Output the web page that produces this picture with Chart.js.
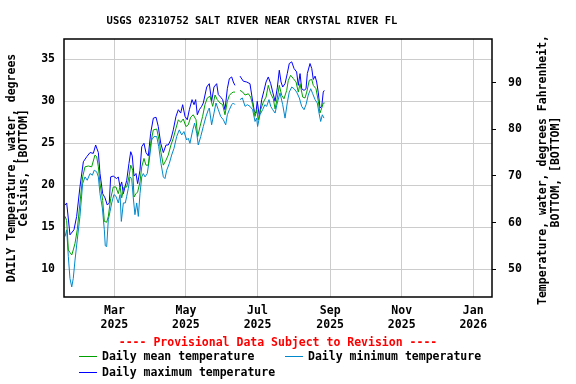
<!DOCTYPE html>
<html>
<head>
<meta charset="utf-8">
<script src="https://cdn.jsdelivr.net/npm/chart.js@4/dist/chart.umd.min.js"></script>
<style>
  html, body { margin: 0; padding: 0; background: #fff; }
  canvas { display: block; }
</style>
</head>
<body>
<canvas id="tempChart" width="576" height="384"></canvas>
<script>
// x values are days counted from 1 Jan 2025 (day 0)
const tickDays = [59, 120, 181, 243, 304, 365];
const tickMonths = ['Mar', 'May', 'Jul', 'Sep', 'Nov', 'Jan'];
const tickYears = ['2025', '2025', '2025', '2025', '2025', '2026'];
const celsiusTicks = [10, 15, 20, 25, 30, 35];
const fahrenheitTicks = [50, 60, 70, 80, 90];

// daily maximum
const maxDays = [16.9, 18.3, 21.1, 24.5, 26.8, 29.6, 32.5, 35.4, 38.2, 41.0, 43.0, 45.3, 46.7, 49.0, 51.0, 52.9, 54.6, 55.8, 58.0, 60.9,
  62.3, 63.8, 65.2, 66.6, 68.0, 69.5, 71.4, 72.9, 74.2, 75.7, 77.4, 78.8, 80.8, 82.3, 84.2, 85.9, 87.9, 89.9, 92.2, 94.5,
  96.4, 98.5, 100.7, 103.0, 104.9, 107.0, 109.2, 111.5, 113.5, 115.5, 117.2, 119.2, 121.1, 122.9, 125.2, 126.9, 128.3, 129.7, 131.4, 133.4,
  134.8, 137.7, 139.9, 141.9, 143.9, 146.2, 147.6, 149.6, 151.3, 153.3, 155.3, 157.0, 159.0, 160.4, 161.8, 164,
  166.1, 168.9, 171.8, 174.6, 176.9, 178.3, 179.7, 180.8, 182.6, 184.6, 186.6, 188.3, 190.2, 192.3, 194.0, 196.0, 197.9, 199.6, 201.1, 202.5,
  204.5, 206.4, 208.1, 210.2, 212.2, 214.4, 215.8, 217.3, 218.7, 220.7, 222.4, 223.5, 225.8, 227.3, 228.6, 230.1, 231.5, 232.9, 234.3, 235.8,
  237.1, 238.0];
const maxTemp = [17.65, 17.9, 14.1, 14.7, 16.3, 19.8, 22.8, 23.4, 23.9, 23.8, 24.8, 23.9, 21.4, 19.0, 18.5, 17.65, 17.9, 21.0, 21.1, 20.8,
  21.0, 19.8, 20.4, 19.0, 19.8, 20.6, 22.6, 24.0, 23.5, 21.1, 21.4, 20.2, 21.8, 24.6, 25.0, 23.9, 23.5, 26.2, 28.0, 28.1,
  27.0, 25.0, 23.9, 24.8, 24.8, 25.4, 26.6, 28.2, 29.0, 28.6, 29.6, 28.2, 27.8, 29.0, 30.2, 29.6, 30.2, 28.4, 29.0, 29.4,
  29.8, 31.7, 32.1, 30.0, 31.7, 32.1, 30.8, 30.5, 30.2, 29.0, 31.5, 32.7, 32.9, 32.3, 31.9, null,
  33.0, 32.4, 32.3, 32.1, 30.0, 28.8, 28.6, 30.0, 28.2, 30.2, 31.3, 32.3, 32.9, 32.1, 31.1, 30.0, 31.6, 33.7, 32.3, 31.7,
  32.1, 33.3, 34.5, 34.7, 33.9, 33.5, 31.9, 33.3, 31.5, 31.3, 31.5, 33.3, 34.5, 33.9, 32.6, 33.0, 32.3, 31.0, 29.2, 29.4,
  31.1, 31.3];

// daily mean
const meanDays = [16.9, 18.3, 19.7, 21.1, 22.6, 23.9, 25.4, 27.3, 29.6, 31.9, 33.9, 36.7, 39.6, 42.4, 43.9, 45.3, 46.7, 49.0, 50.4, 52.4,
  53.8, 55.8, 58.0, 60.3, 62.3, 63.8, 65.2, 67.2, 69.5, 71.4, 72.9, 74.6, 75.7, 77.4, 78.8, 80.8, 82.3, 84.2, 85.9, 87.9,
  89.9, 92.2, 95.1, 97.0, 98.7, 100.7, 103.0, 104.9, 107.2, 109.2, 111.5, 113.5, 115.5, 117.7, 120.0, 122.0, 124.0, 126.2, 128.6, 130.0,
  132.0, 134.2, 136.2, 138.2, 140.5, 142.8, 144.8, 146.7, 149.0, 151.3, 153.3, 155.3, 157.0, 159.0, 160.4, 161.8, 164,
  166.1, 168.4, 170.4, 173.2, 175.2, 176.9, 178.9, 180.3, 181.7, 183.7, 186.0, 188.3, 190.2, 192.3, 194.5, 196.0, 197.9, 199.6, 201.7, 203.6,
  205.9, 207.3, 209.3, 211.6, 213.9, 215.8, 217.3, 219.6, 221.5, 223.0, 225.2, 227.3, 228.6, 230.9, 232.9, 234.3, 235.8, 237.1, 238.3];
const meanTemp = [16.3, 15.8, 12.3, 12.0, 11.7, 12.3, 13.1, 14.7, 17.9, 21.0, 22.2, 22.3, 22.2, 23.6, 23.4, 22.2, 20.2, 18.2, 15.7, 15.6,
  16.3, 18.4, 19.8, 19.8, 19.0, 19.9, 18.5, 19.8, 19.8, 21.0, 22.4, 21.8, 18.6, 19.0, 19.2, 20.4, 22.2, 23.2, 22.4, 22.4,
  25.0, 26.6, 26.7, 25.4, 23.9, 22.4, 23.0, 23.6, 24.8, 25.6, 26.8, 27.8, 27.5, 27.9, 27.0, 27.2, 28.1, 28.4, 27.8, 25.8,
  27.0, 28.2, 29.6, 30.4, 30.6, 29.4, 30.75, 30.2, 29.8, 29.6, 28.4, 30.0, 30.7, 31.0, 31.1, 31.1, null,
  31.3, 31.1, 30.75, 30.9, 30.5, 29.6, 28.2, 29.0, 27.8, 29.0, 29.9, 30.5, 31.9, 30.9, 30.3, 29.1, 30.4, 31.9, 30.7, 30.3,
  31.3, 32.5, 33.1, 32.7, 32.3, 31.1, 32.1, 30.5, 30.4, 31.1, 32.5, 32.6, 31.9, 31.5, 30.0, 28.6, 29.2, 29.8, 29.8];

// daily minimum
const minDays = [16.9, 18.3, 19.7, 21.1, 22.6, 23.9, 25.4, 27.3, 29.6, 31.9, 33.9, 35.8, 38.2, 40.2, 41.8, 43.9, 45.3, 46.7, 48.7, 50.4,
  51.2, 52.4, 53.8, 55.3, 56.7, 58.6, 60.3, 62.3, 63.8, 64.9, 66.6, 68.3, 69.5, 70.8, 72.3, 73.7, 75.1, 76.5, 78.0, 79.4,
  80.8, 82.3, 83.6, 85.1, 87.0, 88.7, 90.8, 92.7, 95.1, 96.8, 98.7, 100.7, 102.1, 103.6, 105.8, 107.8, 109.8, 112.1, 114.3, 116.4,
  118.3, 120.6, 122.0, 123.4, 125.8, 127.4, 129.2, 130.5, 132.6, 134.8, 137.1, 139.1, 139.9, 141.9, 143.9, 145.6, 147.6, 149.6, 151.9, 153.9,
  155.3, 157.0, 159.0, 160.4, 161.8, 164,
  166.1, 168.1, 170.4, 172.3, 174.6, 176.9, 178.9, 180.3, 181.1, 183.1, 185.4, 187.3, 188.8, 190.8, 192.3, 194.0, 196.0, 197.9, 200.2, 202.5,
  204.5, 206.4, 208.1, 210.2, 212.2, 214.4, 216.7, 218.7, 220.7, 222.4, 224.3, 226.4, 228.1, 230.1, 232.0, 233.5, 234.9, 236.3, 237.7];
const minTemp = [13.9, 14.7, 11.5, 8.9, 7.9, 8.9, 11.1, 13.5, 16.3, 20.2, 21.0, 20.6, 21.4, 21.2, 21.8, 21.6, 21.0, 19.0, 17.3, 14.7,
  12.8, 12.7, 15.9, 16.9, 17.9, 18.9, 18.7, 17.9, 18.9, 15.7, 17.9, 17.9, 18.7, 19.6, 21.0, 20.8, 18.5, 16.5, 17.9, 16.3,
  19.0, 21.0, 21.4, 21.0, 21.4, 23.0, 25.4, 25.8, 25.8, 24.6, 22.6, 21.0, 20.8, 21.8, 22.6, 23.6, 24.4, 25.8, 26.6, 26.0,
  26.4, 25.4, 25.6, 25.0, 26.6, 27.4, 26.2, 24.8, 25.8, 27.0, 28.2, 29.0, 29.2, 27.2, 28.6, 29.8, 29.0, 28.2, 27.8, 27.2,
  28.4, 29.0, 29.6, 29.8, 29.6, null,
  30.2, 30.4, 29.4, 29.6, 29.4, 29.0, 27.6, 28.0, 27.0, 28.4, 29.0, 29.6, 29.4, 30.2, 29.4, 29.0, 28.6, 29.8, 31.0, 29.6,
  28.0, 29.8, 31.1, 31.7, 31.5, 31.1, 30.4, 29.4, 29.0, 29.6, 30.75, 31.5, 30.9, 30.2, 29.8, 28.6, 27.6, 28.4, 28.0];

const cMin = 6.7, cMax = 37.42;
const toF = c => c * 9 / 5 + 32;

function pairs(days, vals) {
    return days.map((d, i) => ({ x: d, y: vals[i] }));
}

const FONT = 'DejaVu Sans Mono';

// title, frame, right-hand axis title and the legend below the plot
const usgsDecor = {
    id: 'usgsDecor',
    afterDraw(chart) {
        const ctx = chart.ctx;
        const a = chart.chartArea;
        ctx.save();
        ctx.strokeStyle = '#000';
        ctx.lineWidth = 1.5;
        ctx.strokeRect(a.left, a.top, a.right - a.left, a.bottom - a.top);

        ctx.font = 'bold 10.5px "' + FONT + '"';
        ctx.fillStyle = '#000';
        ctx.textAlign = 'center';
        ctx.textBaseline = 'middle';
        ctx.fillText('USGS 02310752 SALT RIVER NEAR CRYSTAL RIVER FL', 252, 21);

        ctx.font = 'bold 11.5px "' + FONT + '"';
        ctx.save();
        ctx.translate(543, 170);
        ctx.rotate(-Math.PI / 2);
        ctx.fillText('Temperature, water, degrees Fahrenheit,', 0, 0);
        ctx.restore();
        ctx.save();
        ctx.translate(556, 172);
        ctx.rotate(-Math.PI / 2);
        ctx.fillText('BOTTOM, [BOTTOM]', 0, 0);
        ctx.restore();

        ctx.fillStyle = '#ff0000';
        ctx.fillText('---- Provisional Data Subject to Revision ----', 278, 343);

        ctx.textAlign = 'left';
        ctx.fillStyle = '#000';
        const items = [
            { x: 79, y: 357, color: '#00a000', text: 'Daily mean temperature' },
            { x: 285, y: 357, color: '#0088cc', text: 'Daily minimum temperature' },
            { x: 79, y: 373, color: '#0000ff', text: 'Daily maximum temperature' }
        ];
        items.forEach(it => {
            ctx.strokeStyle = it.color;
            ctx.lineWidth = 1;
            ctx.beginPath();
            ctx.moveTo(it.x, it.y - 0.5);
            ctx.lineTo(it.x + 18, it.y - 0.5);
            ctx.stroke();
            ctx.fillText(it.text, it.x + 23, it.y);
        });
        ctx.restore();
    }
};

Chart.defaults.font.family = FONT;
Chart.defaults.font.weight = 'bold';
Chart.defaults.font.size = 11.5;
Chart.defaults.color = '#000';

const ctx = document.getElementById('tempChart').getContext('2d');
const tempChart = new Chart(ctx, {
    type: 'line',
    data: {
        datasets: [
            {
                label: 'Daily mean temperature',
                data: pairs(meanDays, meanTemp),
                borderColor: '#00a000',
                borderWidth: 1,
                pointRadius: 0,
                tension: 0
            },
            {
                label: 'Daily minimum temperature',
                data: pairs(minDays, minTemp),
                borderColor: '#0088cc',
                borderWidth: 1,
                pointRadius: 0,
                tension: 0
            },
            {
                label: 'Daily maximum temperature',
                data: pairs(maxDays, maxTemp),
                borderColor: '#0000ff',
                borderWidth: 1,
                pointRadius: 0,
                tension: 0
            }
        ]
    },
    options: {
        responsive: false,
        animation: false,
        devicePixelRatio: 1,
        layout: { padding: { top: 39, left: 0, right: 0, bottom: 0 } },
        scales: {
            x: {
                type: 'linear',
                min: 16,
                max: 381,
                afterBuildTicks: axis => { axis.ticks = tickDays.map(v => ({ value: v })); },
                afterFit: axis => { axis.height = 87; },
                ticks: {
                    autoSkip: false,
                    maxRotation: 0,
                    padding: 7,
                    callback: value => {
                        const i = tickDays.indexOf(value);
                        return i < 0 ? '' : [tickMonths[i], tickYears[i]];
                    }
                },
                grid: { color: '#cccccc', drawTicks: false },
                border: { display: false }
            },
            y: {
                position: 'left',
                min: cMin,
                max: cMax,
                afterBuildTicks: axis => { axis.ticks = celsiusTicks.map(v => ({ value: v })); },
                afterFit: axis => { axis.width = 64; },
                ticks: { padding: 9 },
                grid: { color: '#cccccc', drawTicks: false },
                border: { display: false },
                title: {
                    display: true,
                    text: ['DAILY Temperature, water, degrees', 'Celsius, [BOTTOM]'],
                    font: { size: 11.5, lineHeight: 1.05 },
                    padding: { top: 6, bottom: 0 }
                }
            },
            y2: {
                position: 'right',
                min: toF(cMin),
                max: toF(cMax),
                afterBuildTicks: axis => { axis.ticks = fahrenheitTicks.map(v => ({ value: v })); },
                afterFit: axis => { axis.width = 84; },
                ticks: { padding: 12 },
                grid: { drawOnChartArea: false, color: '#000', tickLength: 4 },
                border: { display: false }
            }
        },
        plugins: {
            legend: { display: false },
            title: { display: false },
            tooltip: { enabled: false }
        }
    },
    plugins: [usgsDecor]
});
</script>
</body>
</html>
